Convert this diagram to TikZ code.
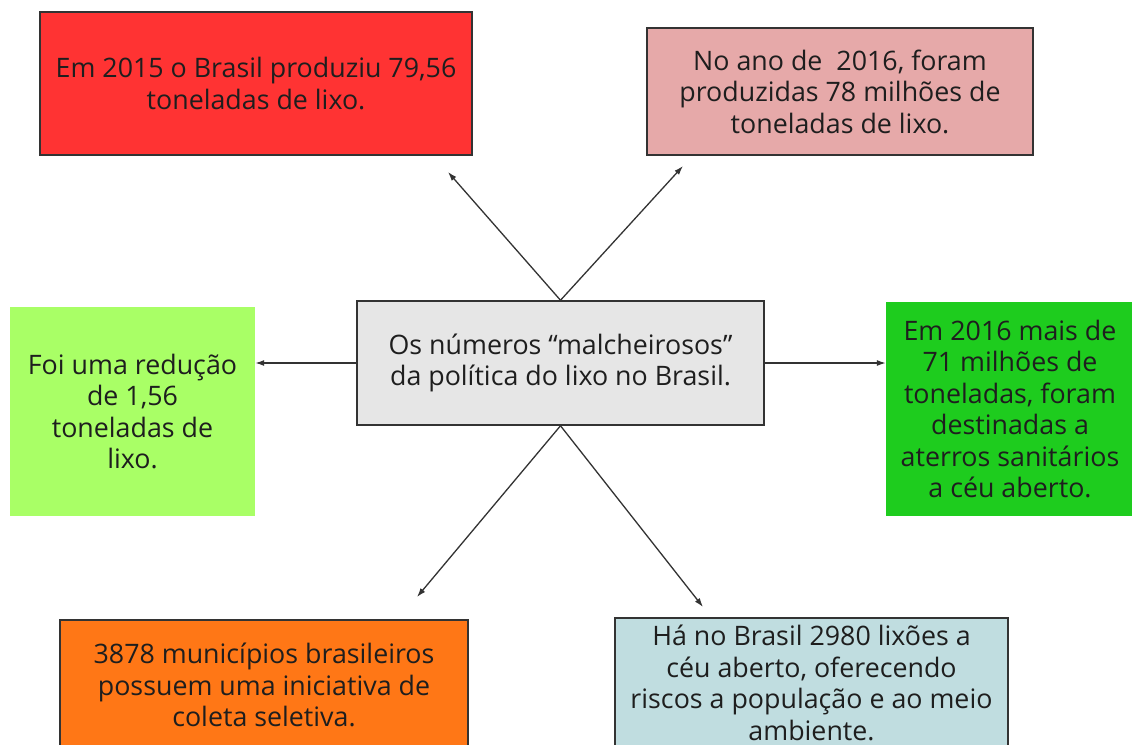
\documentclass[tikz,border=0pt]{standalone}
\usepackage{fontspec}
\setmainfont{Open Sans}
\usetikzlibrary{arrows.meta}
\definecolor{linha}{HTML}{333333}
\definecolor{texto}{HTML}{1E1E1E}
\definecolor{cinza}{HTML}{E6E6E6}
\definecolor{vermelho}{HTML}{FF3333}
\definecolor{rosa}{HTML}{E6A9A9}
\definecolor{verdeclaro}{HTML}{A9FF66}
\definecolor{verde}{HTML}{1ECC1E}
\definecolor{laranja}{HTML}{FF7716}
\definecolor{azulclaro}{HTML}{C0DDE0}
\tikzstyle{box} = [rectangle, draw=linha, line width=1.5pt, text=texto, align=center, inner sep=0pt, font=\fontsize{26.8}{31.5}\selectfont]
\tikzstyle{flatbox} = [rectangle, text=texto, align=center, inner sep=0pt, font=\fontsize{26.8}{31.5}\selectfont]
\tikzstyle{seta} = [draw=linha, line width=1.3pt, -{Latex[length=9pt,width=6pt]}]

\begin{document}
\begin{tikzpicture}[x=1pt,y=-1pt]
\clip (0,0) rectangle (1132,744);
\fill[white] (0,0) rectangle (1132,744);

 \node (tema) [box, fill=cinza, minimum width=407pt, minimum height=124pt] at (560.5,363)
  {Os números “malcheirosos”\\da política do lixo no Brasil.};

 \node (prod2015) [box, fill=vermelho, minimum width=432pt, minimum height=143pt] at (256,83.5)
  {Em 2015 o Brasil produziu 79,56\\toneladas de lixo.};
 \node (prod2016) [box, fill=rosa, minimum width=386pt, minimum height=127pt] at (840,91.5)
  {No ano de\ \ 2016, foram\\produzidas 78 milhões de\\toneladas de lixo.};

 \node (reducao) [flatbox, fill=verdeclaro, minimum width=245pt, minimum height=209pt] at (132.5,411.5)
  {Foi uma redução\\de 1,56\\toneladas de\\lixo.};
 \node (aterros) [flatbox, fill=verde, minimum width=248pt, minimum height=214pt] at (1010,409)
  {Em 2016 mais de\\71 milhões de\\toneladas, foram\\destinadas a\\aterros sanitários\\a céu aberto.};

 \node (coleta) [box, fill=laranja, minimum width=408pt, minimum height=130pt] at (264,685)
  {3878 municípios brasileiros\\possuem uma iniciativa de\\coleta seletiva.};
 \node (lixoes) [box, fill=azulclaro, minimum width=393pt, minimum height=130pt] at (811.5,683)
  {Há no Brasil 2980 lixões a\\céu aberto, oferecendo\\riscos a população e ao meio\\ambiente.};

 % pontas livres das setas
 \coordinate (fim2015) at (448,172);
 \coordinate (fim2016) at (683,166);
 \coordinate (fimcoleta) at (417,597);
 \coordinate (fimlixoes) at (703,607);

 \draw [seta] (tema.north) -- (fim2015);
 \draw [seta] (tema.north) -- (fim2016);
 \draw [seta] (tema.west) -- (tema.west -| reducao.east);
 \draw [seta] (tema.east) -- (tema.east -| aterros.west);
 \draw [seta] (tema.south) -- (fimcoleta);
 \draw [seta] (tema.south) -- (fimlixoes);
\end{tikzpicture}
\end{document}
